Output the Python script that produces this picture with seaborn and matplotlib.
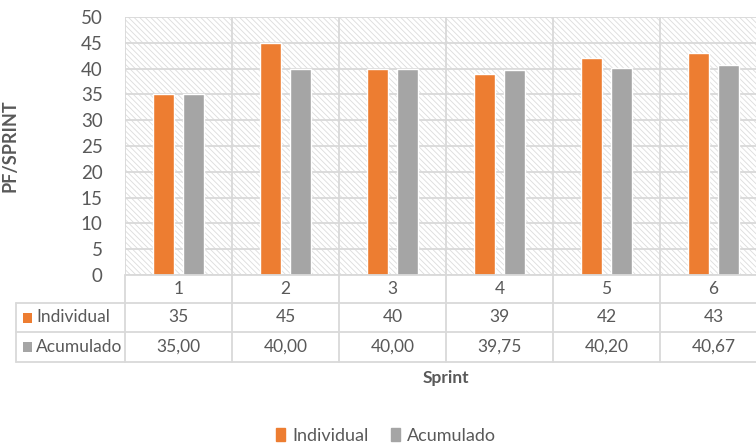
import numpy as np
import pandas as pd
import seaborn as sns
import matplotlib
matplotlib.use("Agg")
import matplotlib.pyplot as plt
import matplotlib.transforms as mtransforms
from matplotlib.patches import Rectangle
from matplotlib.lines import Line2D

# Data
sprints = ["1", "2", "3", "4", "5", "6"]
individual = [35, 45, 40, 39, 42, 43]
acumulado = [35.00, 40.00, 40.00, 39.75, 40.20, 40.67]
series_names = ["Individual", "Acumulado"]
y_ticks = [0, 5, 10, 15, 20, 25, 30, 35, 40, 45, 50]

ORANGE = "#ED7D31"
GRAY = "#A5A5A5"
TEXT = "#595959"
GRID = "#D9D9D9"

sns.set_theme(style="white")
plt.rcParams["font.family"] = ["Lato", "DejaVu Sans"]
plt.rcParams["hatch.linewidth"] = 0.6

W, H = 756, 446
fig = plt.figure(figsize=(W / 100, H / 100), dpi=100)

# pixel layout of the plot area (extends past the right edge of the canvas)
left_px, right_px, top_px, bottom_px = 125, 767, 17, 275
ax = fig.add_axes([left_px / W, 1 - bottom_px / H,
                   (right_px - left_px) / W, (bottom_px - top_px) / H])

df = pd.DataFrame({
    "Sprint": sprints * 2,
    "Valor": individual + acumulado,
    "Serie": [series_names[0]] * len(sprints) + [series_names[1]] * len(sprints),
})

# hatched background
ax.add_patch(Rectangle((0, 0), 1, 1, transform=ax.transAxes, facecolor="white",
                       edgecolor="#DCDCDC", hatch="\\\\\\\\\\\\", lw=0, zorder=0))

sns.barplot(data=df, x="Sprint", y="Valor", hue="Serie",
            palette=[ORANGE, GRAY], width=0.56, gap=0.28,
            ax=ax, legend=False, zorder=3, saturation=1)

n = len(sprints)
ax.set_xlim(-0.5, n - 0.5)
ax.set_ylim(0, 50)
ax.set_yticks(y_ticks)
ax.set_yticklabels([str(t) for t in y_ticks])
ax.set_xticks([])
for t in y_ticks:
    ax.axhline(t, color=GRID, lw=1.3, zorder=1)
for b in np.arange(-0.5, n, 1.0):
    ax.axvline(b, color=GRID, lw=1.3, zorder=1)
for s in ax.spines.values():
    s.set_visible(False)
ax.tick_params(axis="y", length=0, pad=16, labelsize=13.5, labelcolor=TEXT)
ax.set_ylabel("PF/SPRINT", fontsize=13, fontweight="bold", color=TEXT, labelpad=45)
ax.set_xlabel("")

# data table under the plot: x in data units, y in pixels from the top
px = mtransforms.Affine2D().scale(1 / W, -1 / H).translate(0, 1) + fig.transFigure
tr = mtransforms.blended_transform_factory(ax.transData, px)
px_to_data = 1.0 / ((right_px - left_px) / n)
table_left = -0.5 - (left_px - 16) * px_to_data

rows_y = [275, 303, 332, 362]
line_kw = dict(color=GRID, lw=1.3, transform=tr, clip_on=False)
fig.add_artist(Line2D([-0.5, n - 0.5], [rows_y[0]] * 2, **line_kw))
for y in rows_y[1:]:
    fig.add_artist(Line2D([table_left, n - 0.5], [y, y], **line_kw))
for b in np.arange(-0.5, n, 1.0):
    fig.add_artist(Line2D([b, b], [rows_y[0], rows_y[-1]], **line_kw))
fig.add_artist(Line2D([table_left, table_left], [rows_y[1], rows_y[-1]], **line_kw))

cell_kw = dict(transform=tr, ha="center", va="center", fontsize=12.5, color=TEXT)
for i in range(n):
    fig.text(i, (rows_y[0] + rows_y[1]) / 2, sprints[i], **cell_kw)
    fig.text(i, (rows_y[1] + rows_y[2]) / 2, f"{individual[i]:d}", **cell_kw)
    fig.text(i, (rows_y[2] + rows_y[3]) / 2,
             f"{acumulado[i]:.2f}".replace(".", ","), **cell_kw)

for name, color, (y0, y1) in zip(series_names, [ORANGE, GRAY],
                                 [(rows_y[1], rows_y[2]), (rows_y[2], rows_y[3])]):
    yc = (y0 + y1) / 2
    fig.add_artist(Rectangle((table_left + 7 * px_to_data, yc - 5), 9 * px_to_data, 10,
                             transform=tr, facecolor=color, lw=0, clip_on=False))
    fig.text(table_left + 20 * px_to_data, yc, name, transform=tr, ha="left",
             va="center", fontsize=12.5, color=TEXT)

# axis title below the table
fig.text((n - 1) / 2, 378, "Sprint", transform=tr, ha="center", va="center",
         fontsize=12.5, fontweight="bold", color=TEXT)

# legend
handles = [Rectangle((0, 0), 1, 1, color=c) for c in [ORANGE, GRAY]]
fig.legend(handles, series_names, loc="center", bbox_to_anchor=(386 / W, 1 - 436 / H),
           ncol=2, frameon=False, fontsize=13, labelcolor=TEXT,
           handlelength=0.5, handleheight=0.75, handletextpad=0.4, columnspacing=1.2)

fig.savefig("out.png", dpi=100, facecolor="white")
